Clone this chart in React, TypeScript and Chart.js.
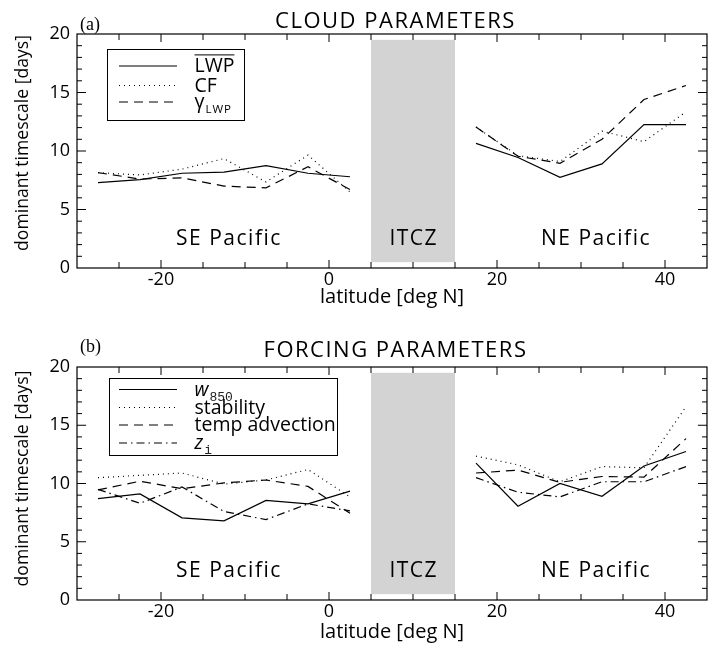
import { useEffect, useRef } from 'react';
import { Chart, registerables } from 'chart.js';

Chart.register(...registerables);

// Latitude centres of the 5-degree bins [deg N]
const LAT_SE = [-27.5, -22.5, -17.5, -12.5, -7.5, -2.5, 2.5];
const LAT_NE = [17.5, 22.5, 27.5, 32.5, 37.5, 42.5];

// (a) cloud parameters: dominant timescale [days]
const LWP_SE = [7.3, 7.55, 8.1, 8.2, 8.75, 8.1, 7.8];
const LWP_NE = [10.65, 9.45, 7.75, 8.9, 12.25, 12.25];
const CF_SE = [8.15, 7.95, 8.45, 9.35, 7.35, 9.65, 6.5];
const CF_NE = [12.05, 9.6, 9.1, 11.7, 10.8, 13.35];
const GAMMA_SE = [8.15, 7.6, 7.7, 7.0, 6.85, 8.65, 6.7];
const GAMMA_NE = [12.05, 9.55, 8.95, 11.0, 14.4, 15.6];

// (b) forcing parameters: dominant timescale [days]
const W850_SE = [8.7, 9.1, 7.05, 6.8, 8.55, 8.25, 9.35];
const W850_NE = [11.75, 8.05, 10.0, 8.9, 11.5, 12.75];
const STAB_SE = [10.5, 10.7, 10.9, 9.95, 10.3, 11.2, 8.85];
const STAB_NE = [12.35, 11.6, 10.15, 11.45, 11.35, 16.6];
const TADV_SE = [9.45, 10.2, 9.55, 10.05, 10.3, 9.75, 7.45];
const TADV_NE = [10.9, 11.15, 10.1, 10.6, 10.55, 13.85];
const ZI_SE = [9.5, 8.3, 9.7, 7.6, 6.9, 8.25, 7.65];
const ZI_NE = [10.5, 9.25, 8.85, 10.15, 10.15, 11.45];

// Axes
const X_RANGE = [-30, 45];
const Y_RANGE = [0, 20];
const X_LABEL_TICKS = [-20, 0, 20, 40];
const Y_STEP = 5;
const X_MINOR_STEP = 5;
const Y_MINOR_STEP = 1;
const X_TITLE = 'latitude [deg N]';
const Y_TITLE = 'dominant timescale [days]';

// Shaded ITCZ band and region names
const ITCZ_LAT = [5, 15];
const ITCZ_DAYS = [0.5, 19.5];
const REGION_NAMES = ['SE Pacific', 'ITCZ', 'NE Pacific'];
const REGION_LAT = [-12, 10, 31.7];
const REGION_DAYS = 2.5;

const SANS = '"Open Sans", "Noto Sans", sans-serif';
const MONO = '"Liberation Mono", "DejaVu Sans Mono", monospace';
const SERIF = '"Liberation Serif", "DejaVu Serif", serif';

const SOLID: number[] = [];
const DOTTED = [1, 4];
const DASHED = [9, 6];
const DASHDOT = [8, 4, 1.5, 4];

type Part = { t: string; sub?: boolean; italic?: boolean; mono?: boolean; over?: boolean };
type Entry = { label: string; parts: Part[]; dash: number[]; se: number[]; ne: number[] };
type PanelSpec = {
  tag: string;
  title: string;
  height: number;
  padTop: number;
  xAxisH: number;
  xTitlePad: number;
  yTitleShift: number;
  tagY: number;
  titleY: number;
  box: { x: number; y: number; w: number; h: number };
  rows: number[];
  entries: Entry[];
};

const PANEL_A: PanelSpec = {
  tag: '(a)',
  title: 'CLOUD PARAMETERS',
  height: 320,
  padTop: 34,
  xAxisH: 52,
  xTitlePad: 11,
  yTitleShift: -8,
  tagY: 25,
  titleY: 21.5,
  box: { x: 107, y: 49, w: 137, h: 71 },
  rows: [66, 85.5, 102],
  entries: [
    { label: 'LWP', parts: [{ t: 'LWP', over: true }], dash: SOLID, se: LWP_SE, ne: LWP_NE },
    { label: 'CF', parts: [{ t: 'CF' }], dash: DOTTED, se: CF_SE, ne: CF_NE },
    { label: 'γLWP', parts: [{ t: 'γ' }, { t: 'LWP', sub: true }], dash: DASHED, se: GAMMA_SE, ne: GAMMA_NE },
  ],
};

const PANEL_B: PanelSpec = {
  tag: '(b)',
  title: 'FORCING PARAMETERS',
  height: 333,
  padTop: 47,
  xAxisH: 53,
  xTitlePad: 9,
  yTitleShift: -5,
  tagY: 27.5,
  titleY: 31,
  box: { x: 109, y: 58, w: 228, h: 77 },
  rows: [69.5, 87.5, 105, 123],
  entries: [
    { label: 'w850', parts: [{ t: 'w', italic: true }, { t: '850', sub: true, mono: true }], dash: SOLID, se: W850_SE, ne: W850_NE },
    { label: 'stability', parts: [{ t: 'stability' }], dash: DOTTED, se: STAB_SE, ne: STAB_NE },
    { label: 'temp advection', parts: [{ t: 'temp advection' }], dash: DASHED, se: TADV_SE, ne: TADV_NE },
    { label: 'zi', parts: [{ t: 'z', italic: true }, { t: 'i', sub: true, mono: true }], dash: DASHDOT, se: ZI_SE, ne: ZI_NE },
  ],
};

function series(se: number[], ne: number[]) {
  return [
    ...LAT_SE.map((x, i) => ({ x, y: se[i] as number | null })),
    { x: (LAT_SE[LAT_SE.length - 1] + LAT_NE[0]) / 2, y: null },
    ...LAT_NE.map((x, i) => ({ x, y: ne[i] as number | null })),
  ];
}

function drawParts(ctx: CanvasRenderingContext2D, parts: Part[], x: number, rowY: number, size: number) {
  let cx = x;
  const base = rowY + size * 0.33;
  for (const p of parts) {
    if (p.sub) {
      const fs = p.mono ? 13 : 11.5;
      ctx.font = `${fs}px ${p.mono ? MONO : SANS}`;
      ctx.fillStyle = p.mono ? '#222' : '#000';
      ctx.letterSpacing = p.mono ? '0px' : '1px';
      ctx.fillText(p.t, cx + 1, base + 5);
      cx += ctx.measureText(p.t).width + 1;
      ctx.letterSpacing = '0px';
    } else {
      ctx.font = `${p.italic ? 'italic ' : ''}${size}px ${SANS}`;
      ctx.fillStyle = '#000';
      ctx.fillText(p.t, cx, base);
      const w = ctx.measureText(p.t).width;
      if (p.over) {
        ctx.beginPath();
        ctx.lineWidth = 1;
        ctx.moveTo(cx, base - size * 0.72 - 3.5);
        ctx.lineTo(cx + w, base - size * 0.72 - 3.5);
        ctx.stroke();
      }
      cx += w;
    }
  }
}

function makePanelPlugin(spec: PanelSpec) {
  return {
    id: 'panelDecor',
    beforeDatasetsDraw(chart: any) {
      const { ctx, scales } = chart;
      const xs = scales.x;
      const ys = scales.y;
      const x0 = xs.getPixelForValue(ITCZ_LAT[0]);
      const x1 = xs.getPixelForValue(ITCZ_LAT[1]);
      const y0 = ys.getPixelForValue(ITCZ_DAYS[1]);
      const y1 = ys.getPixelForValue(ITCZ_DAYS[0]);
      ctx.save();
      ctx.fillStyle = '#d3d3d3';
      ctx.fillRect(x0, y0, x1 - x0, y1 - y0);
      ctx.restore();
    },
    afterDraw(chart: any) {
      const { ctx, chartArea: a, scales } = chart;
      const xs = scales.x;
      const ys = scales.y;
      ctx.save();
      ctx.setLineDash([]);
      ctx.strokeStyle = '#000';
      ctx.lineWidth = 1.2;
      ctx.strokeRect(a.left, a.top, a.right - a.left, a.bottom - a.top);

      // inward tick marks on all four sides
      ctx.beginPath();
      for (let v = X_RANGE[0] + X_MINOR_STEP; v < X_RANGE[1]; v += X_MINOR_STEP) {
        const px = xs.getPixelForValue(v);
        const len = X_LABEL_TICKS.includes(v) ? 8 : 6;
        ctx.moveTo(px, a.bottom);
        ctx.lineTo(px, a.bottom - len);
        ctx.moveTo(px, a.top);
        ctx.lineTo(px, a.top + len);
      }
      for (let v = Y_RANGE[0] + Y_MINOR_STEP; v < Y_RANGE[1]; v += Y_MINOR_STEP) {
        const py = ys.getPixelForValue(v);
        const len = v % Y_STEP === 0 ? 9 : 5;
        ctx.moveTo(a.left, py);
        ctx.lineTo(a.left + len, py);
        ctx.moveTo(a.right, py);
        ctx.lineTo(a.right - len, py);
      }
      ctx.lineWidth = 1;
      ctx.stroke();

      ctx.fillStyle = '#000';
      ctx.textAlign = 'center';
      ctx.textBaseline = 'middle';

      // y-axis title
      ctx.save();
      ctx.translate(23, (a.top + a.bottom) / 2 + spec.yTitleShift);
      ctx.rotate(-Math.PI / 2);
      ctx.font = `17.6px ${SANS}`;
      ctx.fillText(Y_TITLE, 0, 0);
      ctx.restore();

      // region names
      ctx.font = `21px ${SANS}`;
      ctx.letterSpacing = '1.5px';
      REGION_NAMES.forEach((name, i) => {
        ctx.fillText(name, xs.getPixelForValue(REGION_LAT[i]) + 0.75, ys.getPixelForValue(REGION_DAYS));
      });

      // panel title
      ctx.font = `22px ${SANS}`;
      ctx.fillText(spec.title, (a.left + a.right) / 2 + 3.5, spec.titleY);
      ctx.letterSpacing = '0px';

      // panel tag
      ctx.textAlign = 'left';
      ctx.font = `18px ${SERIF}`;
      ctx.fillText(spec.tag, 80, spec.tagY);

      // legend
      const b = spec.box;
      ctx.lineWidth = 1;
      ctx.strokeStyle = '#000';
      ctx.strokeRect(b.x + 0.5, b.y + 0.5, b.w, b.h);
      ctx.textBaseline = 'alphabetic';
      spec.entries.forEach((e, i) => {
        const ry = spec.rows[i];
        ctx.beginPath();
        ctx.setLineDash(e.dash);
        ctx.lineWidth = 1.2;
        ctx.moveTo(119, ry);
        ctx.lineTo(177, ry);
        ctx.stroke();
        ctx.setLineDash([]);
        drawParts(ctx, e.parts, 194.5, ry, 19.5);
      });
      ctx.restore();
    },
  };
}

function buildConfig(spec: PanelSpec): any {
  return {
    type: 'line',
    data: {
      datasets: spec.entries.map((e) => ({
        label: e.label,
        data: series(e.se, e.ne),
        borderColor: '#000',
        borderWidth: 1.2,
        borderDash: e.dash,
        borderCapStyle: 'butt',
        pointRadius: 0,
        fill: false,
        tension: 0,
        spanGaps: false,
      })),
    },
    options: {
      responsive: false,
      animation: false,
      devicePixelRatio: 1,
      layout: { padding: { top: spec.padTop, right: 1, bottom: 0, left: 0 } },
      plugins: {
        legend: { display: false },
        tooltip: { enabled: false },
        title: { display: false },
      },
      scales: {
        x: {
          type: 'linear',
          min: X_RANGE[0],
          max: X_RANGE[1],
          afterBuildTicks: (s: any) => {
            s.ticks = X_LABEL_TICKS.map((v) => ({ value: v }));
          },
          afterFit: (s: any) => {
            s.height = spec.xAxisH;
          },
          grid: { display: false, drawTicks: false },
          border: { display: false },
          ticks: {
            color: '#000',
            font: { family: SANS, size: 18 },
            padding: 1,
            autoSkip: false,
            maxRotation: 0,
            callback: (v: number) => String(v),
          },
          title: {
            display: true,
            text: X_TITLE,
            color: '#000',
            font: { family: SANS, size: 20 },
            padding: { top: 0, bottom: spec.xTitlePad },
          },
        },
        y: {
          type: 'linear',
          min: Y_RANGE[0],
          max: Y_RANGE[1],
          afterFit: (s: any) => {
            s.width = 77;
          },
          grid: { display: false, drawTicks: false },
          border: { display: false },
          ticks: {
            stepSize: Y_STEP,
            color: '#000',
            font: { family: SANS, size: 18 },
            padding: 7,
            callback: (v: number) => String(v),
          },
          title: { display: false },
        },
      },
    },
    plugins: [makePanelPlugin(spec)],
  };
}

function Panel({ spec }: { spec: PanelSpec }) {
  const ref = useRef<HTMLCanvasElement>(null);
  useEffect(() => {
    const chart = new Chart(ref.current as HTMLCanvasElement, buildConfig(spec));
    return () => chart.destroy();
  }, [spec]);
  return (
    <canvas
      ref={ref}
      width={708}
      height={spec.height}
      style={{ display: 'block', width: 708, height: spec.height }}
    />
  );
}

export default function App() {
  return (
    <div style={{ position: 'absolute', left: 0, top: 0, width: 708, height: 653, background: '#fff' }}>
      <Panel spec={PANEL_A} />
      <Panel spec={PANEL_B} />
    </div>
  );
}
